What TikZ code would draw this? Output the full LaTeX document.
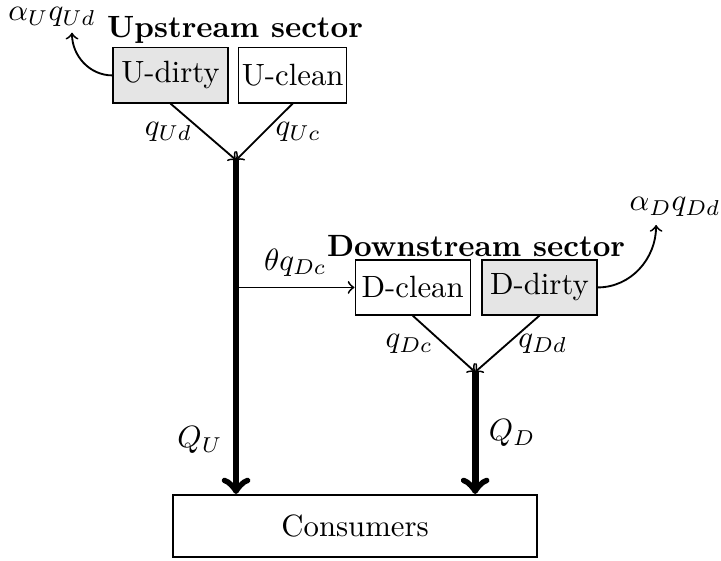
\documentclass[tikz,border=0pt]{standalone}

\begin{document}
\begin{tikzpicture}[
    sector/.style={draw, inner sep=1pt, minimum height=17.9pt},
    dirty/.style={sector, fill=gray!20},
    link/.style={->, semithick},
    flow/.style={->, line width=2.2pt}
  ]

  \useasboundingbox (0pt,0pt) rectangle (234.3pt,-182.3pt);

  %% upstream sector
  \node[dirty, minimum width=37.4pt] (ud) at (55.4pt,-24.5pt) {U-dirty};
  \node[sector, minimum width=34.1pt] (uc) at (95.1pt,-24.5pt) {U-clean};
  \node[font=\bfseries] (uname) at (76.4pt,-9.6pt) {Upstream sector};
  \node[inner sep=0.5pt] (aU) at (16.9pt,-5.6pt) {$\alpha_U q_{Ud}$};
  \coordinate (eU) at (23.4pt,-10.6pt);
  \coordinate (um) at (76.7pt,-52pt);

  %% downstream sector
  \node[sector, minimum width=37.4pt] (dc) at (134.1pt,-93.4pt) {D-clean};
  \node[dirty, minimum width=37.4pt] (dd) at (175.3pt,-93.4pt) {D-dirty};
  \node[font=\bfseries] (dname) at (154.7pt,-79.8pt) {Downstream sector};
  \node (aD) at (219.4pt,-67.3pt) {$\alpha_D q_{Dd}$};
  \coordinate (eD) at (213.2pt,-73.1pt);
  \coordinate (dm) at (154.4pt,-120.9pt);

  %% consumers
  \node[draw, thick, minimum width=118.3pt, minimum height=20.15pt] (cons)
  at (115.4pt,-171pt) {Consumers};

  %% emissions
  \draw[link] (ud.west) to[out=180, in=-90] (eU);
  \draw[link] (dd.east) to[out=0, in=-90] (eD);

  %% firms to sector output
  \draw[link] (ud.south) -- node[midway, left]{$q_{Ud}$} (um);
  \draw[link] (uc.south) -- node[midway, right]{$q_{Uc}$} (um);
  \draw[link] (dc.south) -- node[midway, left]{$q_{Dc}$} (dm);
  \draw[link] (dd.south) -- node[midway, right]{$q_{Dd}$} (dm);

  %% upstream to downstream
  \coordinate (br) at (um |- dc.west);
  \draw[link] (br) -- node[midway, above]{$\theta q_{Dc}$} (dc.west);

  %% sector output to consumers
  \draw[flow] (um) -- (br) -- node[pos=0.74, left]{$Q_U$} (um |- cons.north);
  \draw[flow] (dm) -- node[midway, right]{$Q_D$} (dm |- cons.north);

\end{tikzpicture}
\end{document}
